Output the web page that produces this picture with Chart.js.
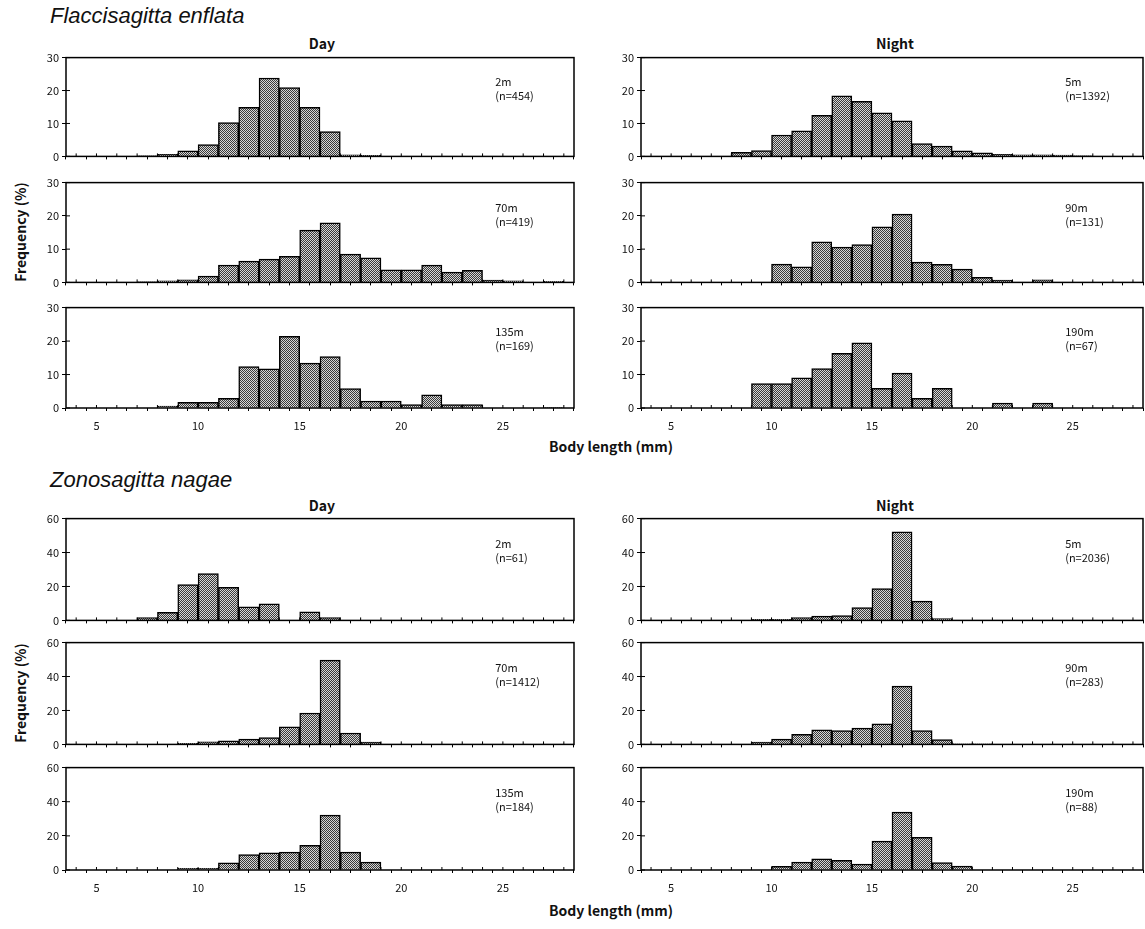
<!DOCTYPE html>
<html>
<head>
<meta charset="utf-8">
<script src="https://cdn.jsdelivr.net/npm/chart.js@4.4.1/dist/chart.umd.min.js"></script>
<style>
  body { margin: 0; background: #fff; width: 1145px; height: 929px; overflow: hidden; position: relative;
         font-family: 'Noto Sans CJK JP', 'DejaVu Sans', sans-serif; color: #111; }
  canvas { position: absolute; }
  .txt { position: absolute; white-space: nowrap; }
  .species { font-family: 'Liberation Sans', Arial, sans-serif; font-style: italic; font-size: 22px; }
  .head { font-size: 14px; font-weight: bold; transform: translateX(-50%); }
  .ylab { font-size: 14px; font-weight: bold; transform: translate(-50%, -50%) rotate(-90deg); }
  .note { font-size: 11px; line-height: 14px; }
</style>
</head>
<body>
<div class="txt species" style="left:50px;top:3px">Flaccisagitta enflata</div>
<div class="txt head" style="left:322px;top:33px">Day</div>
<div class="txt head" style="left:895px;top:33px">Night</div>
<div class="txt ylab" style="left:20px;top:232px">Frequency (%)</div>
<div class="txt head" style="left:611px;top:436px">Body length (mm)</div>

<div class="txt species" style="left:50px;top:467px">Zonosagitta nagae</div>
<div class="txt head" style="left:322px;top:495px">Day</div>
<div class="txt head" style="left:895px;top:495px">Night</div>
<div class="txt ylab" style="left:20px;top:693px">Frequency (%)</div>
<div class="txt head" style="left:611px;top:900px">Body length (mm)</div>

<script>
  // classes de comprimento (mm): cada barra vai de k a k+1
  const binStart = [4, 5, 6, 7, 8, 9, 10, 11, 12, 13, 14, 15, 16, 17, 18, 19, 20, 21, 22, 23, 24, 25, 26, 27]
  const xTickLabels = [5, 10, 15, 20, 25]

  // Flaccisagitta enflata (%)
  const enflataDay2m = [0, 0, 0, 0.2, 0.6, 1.7, 3.6, 10.3, 14.9, 23.8, 20.9, 14.9, 7.5, 0.5, 0.3, 0, 0.1, 0, 0, 0, 0, 0, 0, 0]
  const enflataDay70m = [0, 0, 0, 0.2, 0.5, 0.8, 1.9, 5.2, 6.4, 7.0, 7.8, 15.7, 17.9, 8.5, 7.4, 3.8, 3.8, 5.2, 3.1, 3.6, 0.7, 0.5, 0, 0.3]
  const enflataDay135m = [0, 0, 0, 0, 0.6, 1.7, 1.7, 2.9, 12.4, 11.7, 21.4, 13.4, 15.4, 5.8, 2.1, 2.1, 1.0, 3.9, 1.0, 1.0, 0, 0, 0, 0.2]
  const enflataNight5m = [0, 0, 0, 0, 1.2, 1.8, 6.5, 7.8, 12.5, 18.4, 16.7, 13.2, 10.8, 3.9, 3.1, 1.7, 1.1, 0.6, 0.5, 0.5, 0.4, 0.2, 0, 0]
  const enflataNight90m = [0, 0, 0, 0, 0, 0, 5.5, 4.7, 12.2, 10.6, 11.4, 16.7, 20.5, 6.1, 5.4, 4.0, 1.5, 0.7, 0, 0.8, 0, 0, 0, 0]
  const enflataNight190m = [0, 0, 0, 0, 0, 7.3, 7.3, 9.0, 11.8, 16.3, 19.5, 5.9, 10.4, 2.9, 5.9, 0, 0, 1.5, 0, 1.5, 0, 0, 0, 0]

  // Zonosagitta nagae (%)
  const nagaeDay2m = [0, 0, 0, 1.6, 4.8, 21.1, 27.6, 19.5, 8.0, 9.8, 0, 5.0, 1.6, 0, 0, 0, 0, 0, 0, 0, 0, 0, 0, 0]
  const nagaeDay70m = [0, 0, 0, 0, 0.2, 0.6, 1.5, 2.1, 3.1, 4.0, 10.3, 18.5, 49.7, 6.7, 1.3, 0, 0, 0, 0, 0, 0, 0, 0, 0]
  const nagaeDay135m = [0, 0, 0, 0, 0, 1.0, 1.0, 4.2, 9.0, 10.0, 10.5, 14.4, 32.2, 10.5, 4.6, 0, 0, 0, 0, 0, 0, 0, 0, 0]
  const nagaeNight5m = [0, 0, 0, 0, 0.2, 0.6, 0.6, 1.7, 2.5, 2.9, 7.6, 18.7, 52.2, 11.4, 1.1, 0, 0, 0, 0, 0, 0, 0, 0, 0]
  const nagaeNight90m = [0, 0, 0, 0, 0, 1.3, 3.1, 5.9, 8.6, 8.2, 9.6, 12.1, 34.3, 8.2, 2.9, 0.3, 0.3, 0, 0, 0, 0, 0, 0, 0]
  const nagaeNight190m = [0, 0, 0, 0, 0, 0, 2.1, 4.6, 6.5, 5.6, 3.4, 16.9, 33.9, 19.2, 4.4, 2.3, 0, 0, 0, 0, 0, 0, 0, 0]

  // profundidade e n de cada painel
  const depthLabels = ['2m', '70m', '135m', '5m', '90m', '190m']
  const enflataN = [454, 419, 169, 1392, 131, 67]
  const nagaeN = [61, 1412, 184, 2036, 283, 88]

  // posição das áreas de plotagem (px)
  const colunas = [{ left: 66, width: 508 }, { left: 641, width: 502 }]
  const linhas = [
    { top: 56, bottom: 158 }, { top: 181, bottom: 284 }, { top: 306, bottom: 408 },
    { top: 517, bottom: 622 }, { top: 641, bottom: 746 }, { top: 766, bottom: 870 }
  ]

  // textura pontilhada das barras
  function criarTextura () {
    const c = document.createElement('canvas')
    c.width = 2
    c.height = 2
    const g = c.getContext('2d')
    g.fillStyle = '#d6d6d6'
    g.fillRect(0, 0, 2, 2)
    g.fillStyle = '#3a3a3a'
    g.fillRect(0, 0, 1, 1)
    g.fillRect(1, 1, 1, 1)
    return g.createPattern(c, 'repeat')
  }
  const textura = criarTextura()

  // moldura e marcas internas dos eixos
  const moldura = {
    id: 'moldura',
    afterDatasetsDraw (chart) {
      const { ctx, chartArea: a, scales } = chart
      ctx.save()
      ctx.strokeStyle = '#000'
      ctx.lineWidth = 1.5
      ctx.strokeRect(a.left, a.top, a.right - a.left, a.bottom - a.top)
      ctx.lineWidth = 1
      ctx.beginPath()
      scales.x.ticks.forEach(t => {
        const px = scales.x.getPixelForValue(t.value)
        ctx.moveTo(px, a.bottom - 3)
        ctx.lineTo(px, a.bottom)
      })
      scales.y.ticks.forEach(t => {
        const py = scales.y.getPixelForValue(t.value)
        ctx.moveTo(a.left, py)
        ctx.lineTo(a.left + 4, py)
      })
      ctx.stroke()
      ctx.restore()
    }
  }

  function criarPainel (valores, coluna, linha, yMax, mostrarRotulos, profundidade, n) {
    const padTop = 8
    const padRight = 4
    const yWidth = 46
    const xHeight = mostrarRotulos ? 30 : 8
    const col = colunas[coluna]
    const lin = linhas[linha]
    const alturaPlot = lin.bottom - lin.top

    const canvas = document.createElement('canvas')
    canvas.style.left = (col.left - yWidth) + 'px'
    canvas.style.top = (lin.top - padTop) + 'px'
    canvas.style.width = (col.width + yWidth + padRight) + 'px'
    canvas.style.height = (alturaPlot + padTop + xHeight) + 'px'
    canvas.width = col.width + yWidth + padRight
    canvas.height = alturaPlot + padTop + xHeight
    document.body.appendChild(canvas)

    new Chart(canvas, {
      type: 'bar',
      data: {
        datasets: [{
          data: binStart.map((b, i) => ({ x: b + 0.5, y: valores[i] })),
          backgroundColor: textura,
          borderColor: '#000',
          borderWidth: 1.5,
          barPercentage: 1,
          categoryPercentage: 1
        }]
      },
      options: {
        responsive: false,
        animation: false,
        devicePixelRatio: 1,
        layout: { padding: { top: padTop, right: padRight, left: 0, bottom: 0 } },
        plugins: { legend: { display: false }, tooltip: { enabled: false } },
        scales: {
          x: {
            type: 'linear',
            min: 4,
            max: 28,
            afterFit: s => { s.height = xHeight },
            border: { display: false },
            grid: { drawOnChartArea: false, drawTicks: true, tickLength: 3, color: '#000' },
            ticks: {
              stepSize: 1,
              autoSkip: false,
              maxRotation: 0,
              padding: 8,
              display: mostrarRotulos,
              color: '#111',
              font: { family: "'Noto Sans CJK JP', 'DejaVu Sans', sans-serif", size: 11 },
              callback: v => (xTickLabels.includes(v) ? String(v) : '')
            }
          },
          y: {
            min: 0,
            max: yMax,
            afterFit: s => { s.width = yWidth },
            border: { display: false },
            grid: { drawOnChartArea: false, drawTicks: true, tickLength: 4, color: '#000' },
            ticks: {
              stepSize: yMax / 3,
              padding: 3,
              color: '#111',
              font: { family: "'Noto Sans CJK JP', 'DejaVu Sans', sans-serif", size: 11 }
            }
          }
        }
      },
      plugins: [moldura]
    })

    const nota = document.createElement('div')
    nota.className = 'txt note'
    nota.style.left = (col.left + col.width * 0.845) + 'px'
    nota.style.top = (lin.top + alturaPlot * 0.18) + 'px'
    nota.innerHTML = profundidade + '<br>(n=' + n + ')'
    document.body.appendChild(nota)
  }

  const enflataSeries = [enflataDay2m, enflataDay70m, enflataDay135m, enflataNight5m, enflataNight90m, enflataNight190m]
  const nagaeSeries = [nagaeDay2m, nagaeDay70m, nagaeDay135m, nagaeNight5m, nagaeNight90m, nagaeNight190m]

  enflataSeries.forEach((serie, i) => {
    criarPainel(serie, i < 3 ? 0 : 1, i % 3, 30, i % 3 === 2, depthLabels[i], enflataN[i])
  })
  nagaeSeries.forEach((serie, i) => {
    criarPainel(serie, i < 3 ? 0 : 1, 3 + (i % 3), 60, i % 3 === 2, depthLabels[i], nagaeN[i])
  })
</script>
</body>
</html>
